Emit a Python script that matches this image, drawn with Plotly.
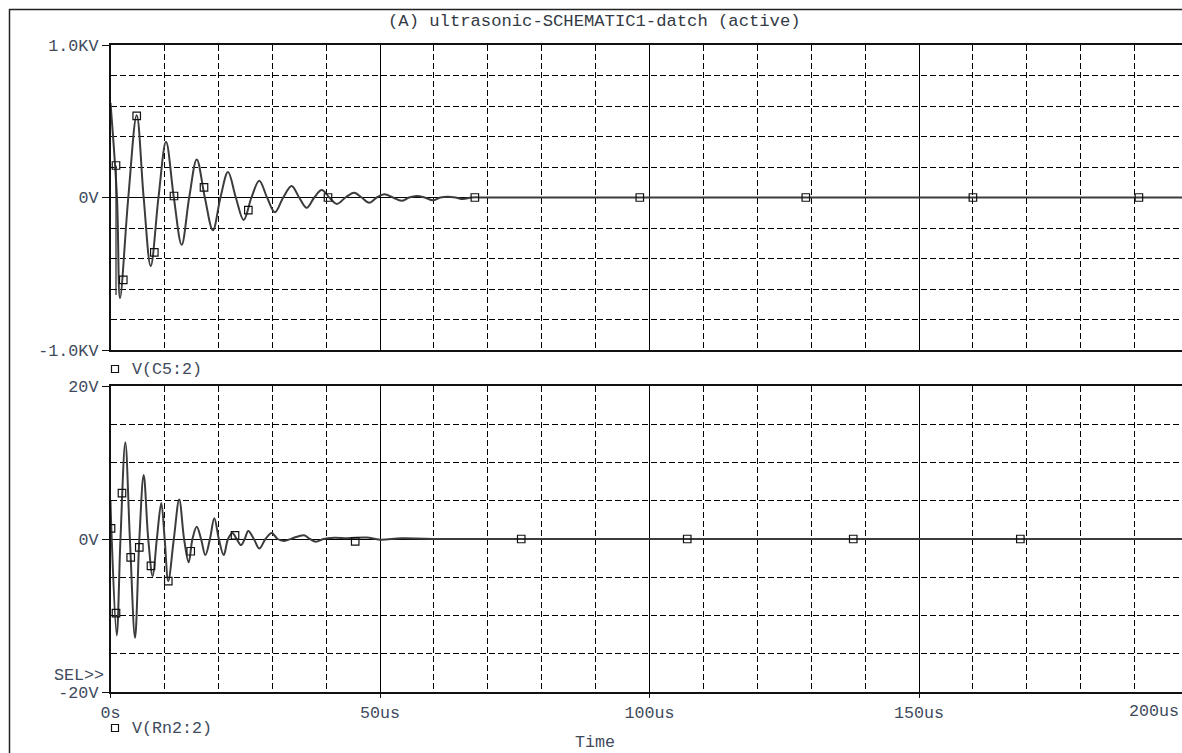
import plotly.graph_objects as go

W, H = 1182, 753

# ---------------- data (time in us) ----------------
# V(C5:2) in kV : extrema and zero crossings
top_t = [0.0, 1.2, 1.76, 3.3, 4.86, 6.15, 7.46, 8.9, 10.3, 11.75, 13.2, 14.6, 16.0, 17.5,
         19.0, 20.4, 21.8, 23.25, 24.7, 26.15, 27.6, 29.05, 30.5, 32.05, 33.6, 35.0, 36.4,
         37.8, 39.2, 40.6, 42.0, 43.6, 45.2, 46.6, 48.0, 49.4, 50.8, 52.4, 54.0, 55.4, 56.8,
         58.3, 59.8, 61.2, 62.6, 64.0, 65.4, 67.0, 70.0, 200.0]
top_v = [0.62, 0.0, -0.66, 0.0, 0.54, 0.0, -0.45, 0.0, 0.365, 0.0, -0.31, 0.0, 0.25, 0.0,
         -0.215, 0.0, 0.167, 0.0, -0.148, 0.0, 0.11, 0.0, -0.097, 0.0, 0.075, 0.0, -0.068,
         0.0, 0.049, 0.0, -0.042, 0.0, 0.031, 0.0, -0.034, 0.0, 0.021, 0.0, -0.022, 0.0, 0.010,
         0.0, -0.018, 0.0, 0.005, 0.0, -0.010, 0.0, 0.0, 0.0]
# thin vertical transient at ~1us
spike_t = [1.02, 1.02]
spike_v = [0.21, -0.64]
# marker points on V(C5:2)
mk_top_t = [1.02, 2.37, 4.86, 8.13, 11.78, 17.35, 25.57, 40.35, 67.6, 98.2, 129.0, 160.0, 190.8]
mk_top_v = [0.21, -0.54, 0.535, -0.36, 0.01, 0.066, -0.083, 0.0, 0.0, 0.0, 0.0, 0.0, 0.0]

# V(Rn2:2) in V
bot_t = [0.0, 0.15, 1.15, 1.85, 2.75, 3.6, 4.55, 5.35, 6.16, 7.0, 7.83, 8.6, 9.42, 10.05,
         10.72, 11.75, 12.75, 13.65, 14.5, 15.2, 16.0, 16.8, 17.6, 18.45, 19.26, 20.1, 21.0,
         21.8, 22.6, 23.4, 24.2, 24.9, 25.57, 26.6, 27.6, 28.75, 29.9, 31.0, 32.2, 33.6, 35.9,
         37.0, 38.1, 39.5, 41.5, 44.0, 47.5, 50.0, 54.0, 60.0, 200.0]
bot_v = [5.0, 1.4, -12.6, 0.0, 12.6, 0.0, -12.9, 0.0, 8.35, 0.0, -4.85, 0.0, 4.7, 0.0,
         -5.5, 0.0, 5.15, 0.0, -3.05, 0.0, 1.6, 0.0, -2.1, 0.0, 2.7, 0.0, -2.1,
         0.0, 0.8, 0.0, -0.8, 0.0, 1.05, 0.0, -1.25, 0.0, 0.8, 0.0, -0.25, 0.05, 0.5,
         0.0, -0.35, 0.0, 0.15, 0.1, 0.2, -0.1, 0.1, 0.0, 0.0]
mk_bot_t = [0.1, 1.02, 2.13, 3.75, 5.34, 7.51, 10.72, 14.88, 23.1, 45.4, 76.2, 107.0, 137.8, 168.8]
mk_bot_v = [1.4, -9.7, 6.0, -2.4, -1.1, -3.5, -5.5, -1.6, 0.47, -0.3, 0.0, 0.0, 0.0, 0.0]

x_tickvals = [0, 50, 100, 150]
x_ticktext = ["0s", "50us", "100us", "150us"]
top_tickvals = [-1, 0, 1]
top_ticktext = ["-1.0KV", "0V", "1.0KV"]
bot_tickvals = [-20, 0, 20]
bot_ticktext = ["-20V", "0V", "20V"]
x_minor = [10, 20, 30, 40, 60, 70, 80, 90, 110, 120, 130, 140, 160, 170, 180, 190]
top_minor = [-0.8, -0.6, -0.4, -0.2, 0.2, 0.4, 0.6, 0.8]
bot_minor = [-15, -10, -5, 5, 10, 15]

# ---------------- layout helpers ----------------
def px(x):
    return x / W

def py(y):
    return 1 - y / H

FONT = "Liberation Mono, Courier New, monospace"
TXT = "#404a5c"
LINE = "#3c3c3c"
GRID = "#000000"
DASH = "6px,3px"
FS = 16.7

x0_px = 110.5
px_per_us = 5.39
x_max = (W - x0_px) / px_per_us

fig = go.Figure()

trace_style = dict(mode="lines", line=dict(color=LINE, width=2.0, shape="spline", smoothing=1.0),
                   hoverinfo="skip", showlegend=False)
mk_style = dict(mode="markers", marker=dict(symbol="square-open", size=7.5, color="#111111",
                                            line=dict(width=1.2, color="#111111")),
                hoverinfo="skip", showlegend=False)

fig.add_trace(go.Scatter(x=top_t, y=top_v, xaxis="x", yaxis="y", **trace_style))
fig.add_trace(go.Scatter(x=spike_t, y=spike_v, xaxis="x", yaxis="y", mode="lines",
                         line=dict(color="#222222", width=1.2), hoverinfo="skip", showlegend=False))
fig.add_trace(go.Scatter(x=mk_top_t, y=mk_top_v, xaxis="x", yaxis="y", **mk_style))
fig.add_trace(go.Scatter(x=bot_t, y=bot_v, xaxis="x2", yaxis="y2", **trace_style))
fig.add_trace(go.Scatter(x=mk_bot_t, y=mk_bot_v, xaxis="x2", yaxis="y2", **mk_style))

xdom = [px(x0_px), 1.0]
top_dom = [py(350), py(45)]
bot_dom = [py(692), py(386)]

common_x = dict(range=[0, x_max], domain=xdom, tickvals=x_tickvals, ticktext=x_ticktext,
                automargin=False,
                showgrid=True, gridcolor=GRID, gridwidth=1, zeroline=False,
                showline=True, linecolor="#111111", linewidth=1.5, mirror=True,
                minor=dict(tickmode="array", tickvals=x_minor, showgrid=True, gridcolor=GRID,
                           gridwidth=1, griddash=DASH, ticks=""),
                tickfont=dict(family=FONT, size=FS, color=TXT))
common_y = dict(showgrid=True, gridcolor=GRID, gridwidth=1, zeroline=False,
                automargin=False,
                showline=True, linecolor="#111111", linewidth=1.5, mirror=False,
                ticks="outside", ticklen=7, tickcolor="#111111", tickwidth=1.2,
                tickfont=dict(family=FONT, size=FS, color=TXT))

fig.update_layout(
    width=W, height=H,
    margin=dict(l=0, r=0, t=0, b=0, autoexpand=False),
    paper_bgcolor="white", plot_bgcolor="white",
    showlegend=False,
    xaxis=dict(anchor="y", showticklabels=False, ticks="", **common_x),
    yaxis=dict(domain=top_dom, range=[-1, 1], tickvals=top_tickvals, ticktext=top_ticktext,
               minor=dict(tickmode="array", tickvals=top_minor, showgrid=True, gridcolor=GRID,
                          gridwidth=1, griddash=DASH, ticks=""),
               anchor="x", **common_y),
    xaxis2=dict(anchor="y2", matches="x", showticklabels=True, ticks="outside", ticklen=4,
                tickcolor="#111111", tickwidth=1.2, **common_x),
    yaxis2=dict(domain=bot_dom, range=[-20, 20], tickvals=bot_tickvals, ticktext=bot_ticktext,
                minor=dict(tickmode="array", tickvals=bot_minor, showgrid=True, gridcolor=GRID,
                           gridwidth=1, griddash=DASH, ticks=""),
                anchor="x2", **common_y),
)

def ann(text, x, y, xanchor="center", size=FS, color=TXT):
    fig.add_annotation(text=text, x=px(x), y=py(y), xref="paper", yref="paper",
                       xanchor=xanchor, yanchor="middle", showarrow=False,
                       font=dict(family=FONT, size=size, color=color))

ann("(A) ultrasonic-SCHEMATIC1-datch (active)", 594, 22, size=17.2, color="#333a44")
ann("V(C5:2)", 130, 369, xanchor="left")
ann("V(Rn2:2)", 130, 728, xanchor="left")
ann("SEL&gt;&gt;", 106, 675, xanchor="right")
ann("200us", 1181, 711, xanchor="right")
ann("Time", 595, 742)

shapes = []
# outer frame
shapes.append(dict(type="line", xref="paper", yref="paper", x0=px(9), x1=1.0, y0=py(9.5), y1=py(9.5),
                   line=dict(color="#222222", width=1.5)))
shapes.append(dict(type="line", xref="paper", yref="paper", x0=px(9.5), x1=px(9.5), y0=py(9), y1=0,
                   line=dict(color="#222222", width=1.5)))
# legend squares
for yc in (369, 728):
    shapes.append(dict(type="rect", xref="paper", yref="paper", x0=px(111.5), x1=px(118.5),
                       y0=py(yc + 3.5), y1=py(yc - 3.5), line=dict(color="#111111", width=1.2)))
fig.update_layout(shapes=shapes)

fig.write_html("out.html")
